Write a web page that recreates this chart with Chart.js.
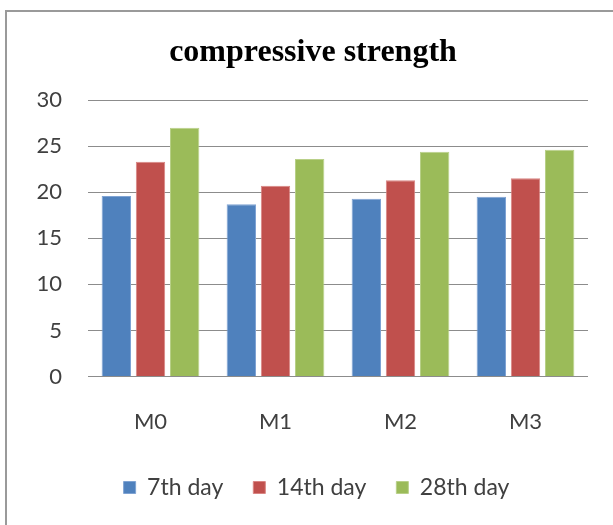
<!DOCTYPE html>
<html>
<head>
<meta charset="utf-8">
<script src="https://cdn.jsdelivr.net/npm/chart.js@4/dist/chart.umd.min.js"></script>
<style>
  html, body { margin: 0; padding: 0; background: #ffffff; overflow: hidden; }
  #wrap { position: relative; width: 613px; height: 525px; }
</style>
</head>
<body>
<div id="wrap"><canvas id="chart" width="613" height="525"></canvas></div>
<script>
// Mixes and curing ages
const categories = ['M0', 'M1', 'M2', 'M3'];
const seriesNames = ['7th day', '14th day', '28th day'];

// Compressive strength per mix
const day7 = [19.6, 18.7, 19.3, 19.5];
const day14 = [23.3, 20.7, 21.3, 21.5];
const day28 = [27.0, 23.6, 24.4, 24.6];

const yTicks = [0, 5, 10, 15, 20, 25, 30];
const titleText = 'compressive strength';

const colors = ['#4F81BD', '#C0504D', '#9BBB59'];
const edges = ['#7fa3d3', '#d98583', '#b9d089'];

// Outer frame of the chart object and its title
const framePlugin = {
  id: 'frame',
  afterLayout(chart) {
    // legend sits a little right of centre and closer to the axis labels
    const lg = chart.legend;
    if (lg) {
      lg.left += 10; lg.right += 10;
      lg.top -= 21; lg.bottom -= 21;
    }
  },
  beforeDraw(chart) {
    const ctx = chart.ctx;
    ctx.save();
    ctx.fillStyle = '#ffffff';
    ctx.fillRect(0, 0, chart.width, chart.height);
    ctx.strokeStyle = '#9a9a9a';
    ctx.lineWidth = 2;
    ctx.strokeRect(6, 11, chart.width + 20, chart.height + 20);
    ctx.restore();
  },
  afterDraw(chart) {
    const ctx = chart.ctx;
    ctx.save();
    ctx.fillStyle = '#000000';
    ctx.font = 'bold 32px "Liberation Serif", "Times New Roman", serif';
    ctx.textAlign = 'center';
    ctx.textBaseline = 'middle';
    ctx.fillText(titleText, 313, 53);
    ctx.restore();
  }
};

const seriesData = [day7, day14, day28];

new Chart(document.getElementById('chart'), {
  type: 'bar',
  data: {
    labels: categories,
    datasets: seriesNames.map((name, i) => ({
      label: name,
      data: seriesData[i],
      backgroundColor: colors[i],
      borderColor: edges[i],
      borderWidth: 1,
      categoryPercentage: 0.82,
      barPercentage: 0.86
    }))
  },
  options: {
    responsive: false,
    animation: false,
    devicePixelRatio: 1,
    layout: { padding: { left: 25, right: 25, top: 100, bottom: -5 } },
    plugins: {
      title: { display: false },
      tooltip: { enabled: false },
      legend: {
        position: 'bottom',
        labels: {
          boxWidth: 12,
          boxHeight: 12,
          padding: 30,
          color: '#404040',
          font: { family: 'Lato', size: 23 }
        }
      }
    },
    scales: {
      x: {
        grid: { display: false, drawTicks: false },
        border: { display: false },
        ticks: {
          padding: 32,
          color: '#404040',
          font: { family: 'Lato', size: 22 }
        }
      },
      y: {
        min: 0,
        max: 30,
        afterFit(scale) { scale.width = 63; },
        afterBuildTicks(scale) { scale.ticks = yTicks.map(v => ({ value: v })); },
        grid: { color: '#8c8c8c', lineWidth: 1, drawTicks: false },
        border: { display: false },
        ticks: {
          padding: 26,
          color: '#404040',
          font: { family: 'Lato', size: 22 }
        }
      }
    }
  },
  plugins: [framePlugin]
});
</script>
</body>
</html>
